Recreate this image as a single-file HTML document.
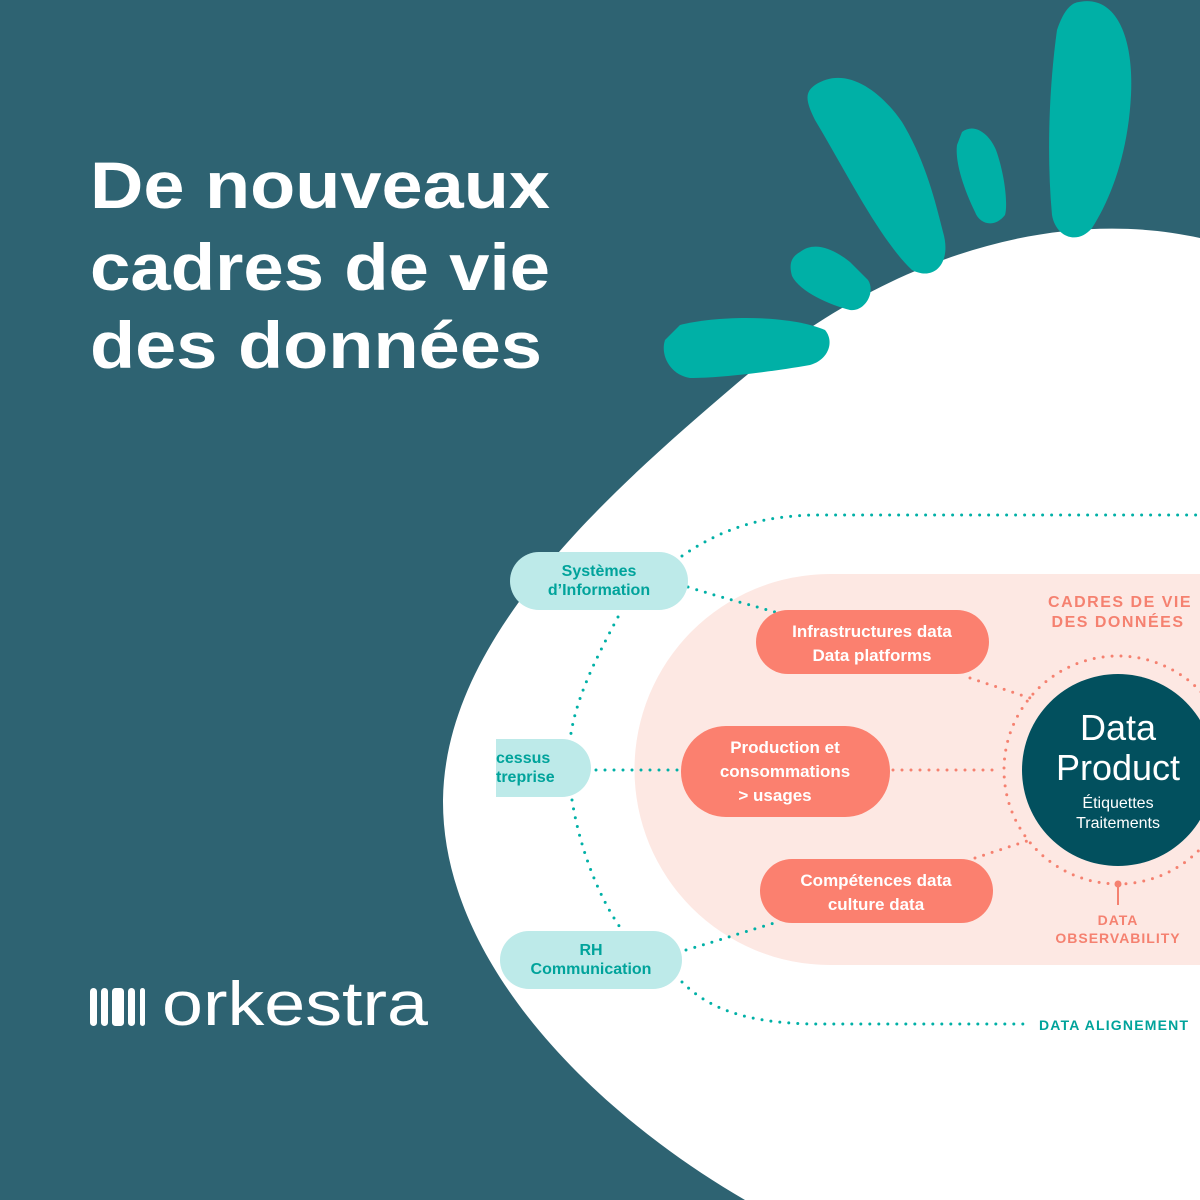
<!DOCTYPE html>
<html><head><meta charset="utf-8"><style>
html,body{margin:0;padding:0;background:#2e6372;}
svg{display:block}
text{font-family:"Liberation Sans",sans-serif}
</style></head><body>
<svg width="1200" height="1200" viewBox="0 0 1200 1200" xmlns="http://www.w3.org/2000/svg">
<rect width="1200" height="1200" fill="#2e6372"/>
<path d="M1200,238 C1050,205 880,260 735,385 C600,500 445,640 443,800 C442,960 590,1110 745,1200 L1200,1200 Z" fill="#fff"/>
<g fill="#00b0a6">
<path d="M1075,3 C1112,-8 1134,30 1131,95 C1128,155 1110,200 1092,228 C1078,245 1056,238 1052,215 C1046,150 1050,80 1057,30 C1062,15 1068,6 1075,3 Z"/>
<path d="M815,85 C845,65 880,90 902,122 C925,160 935,200 943,232 C952,262 935,282 912,270 C880,240 845,170 815,120 C805,100 805,92 815,85 Z"/>
<path d="M962,132 C975,122 990,135 996,150 C1005,175 1008,205 1005,215 C995,228 980,225 975,212 C962,185 955,160 957,145 Z"/>
<path d="M800,252 C815,240 835,250 850,262 L868,280 C876,292 865,312 850,310 C830,305 800,292 792,276 C788,262 793,256 800,252 Z"/>
<path d="M680,325 C720,315 790,315 825,330 C835,342 828,360 810,365 C770,372 720,378 690,378 C670,375 660,355 665,340 Z"/>
</g>
<text x="90" y="208" fill="#fff" font-size="66" font-weight="bold" textLength="460" lengthAdjust="spacingAndGlyphs">De nouveaux</text>
<text x="90" y="290" fill="#fff" font-size="66" font-weight="bold" textLength="460" lengthAdjust="spacingAndGlyphs">cadres de vie</text>
<text x="90" y="368" fill="#fff" font-size="66" font-weight="bold" textLength="452" lengthAdjust="spacingAndGlyphs">des  données</text>
<g fill="#fff">
<rect x="90" y="988" width="7" height="38" rx="3.5"/>
<rect x="101" y="988" width="7" height="38" rx="3.5"/>
<rect x="112" y="988" width="12" height="38" rx="3.5"/>
<rect x="128" y="988" width="7" height="38" rx="3.5"/>
<rect x="140" y="988" width="5" height="38" rx="2.5"/>
</g>
<text x="162" y="1025" fill="#fff" font-size="62" font-weight="normal" style="font-weight:100" textLength="266" lengthAdjust="spacingAndGlyphs">orkestra</text>
<!-- pink region -->
<path d="M830,574 L1200,574 L1200,965 L830,965 A195,195 0 0 1 830,574 Z" fill="#fde8e3"/>
<!-- teal dotted lines -->
<g fill="none" stroke="#00b0a6" stroke-width="3" stroke-linecap="round" stroke-dasharray="0 9">
<path d="M682,556 C720,530 760,515 820,515 L1200,515"/>
<path d="M688,587 C720,597 750,605 775,612"/>
<path d="M618,617 C595,660 575,700 570,740"/>
<path d="M596,770 L680,770"/>
<path d="M572,800 C580,850 600,900 622,930"/>
<path d="M686,950 C720,940 750,930 778,922"/>
<path d="M682,982 C710,1010 750,1024 820,1024 L1025,1024"/>
</g>
<!-- salmon dotted -->
<g fill="none" stroke="#f58170" stroke-width="3" stroke-linecap="round" stroke-dasharray="0 9">
<path d="M970,678 L1030,698"/>
<path d="M893,770 L1000,770"/>
<path d="M975,858 L1030,840"/>
<circle cx="1118" cy="770" r="114"/>
</g>
<line x1="1118" y1="884" x2="1118" y2="905" stroke="#f58170" stroke-width="2"/>
<circle cx="1118" cy="884" r="3.5" fill="#f58170"/>
<!-- teal pills -->
<g fill="#bdeae9">
<rect x="510" y="552" width="178" height="58" rx="29"/>
<path d="M496,739 L562,739 A29,29 0 0 1 562,797 L496,797 Z"/>
<rect x="500" y="931" width="182" height="58" rx="29"/>
</g>
<g fill="#00a39b" font-size="16" font-weight="bold" text-anchor="middle">
<text x="599" y="576">Systèmes</text>
<text x="599" y="595">d’Information</text>
<text x="591" y="955">RH</text>
<text x="591" y="974">Communication</text>
<text x="496" y="763" text-anchor="start">cessus</text>
<text x="496" y="782" text-anchor="start">treprise</text>
</g>
<!-- salmon pills -->
<g fill="#fb806f">
<rect x="756" y="610" width="233" height="64" rx="32"/>
<rect x="681" y="726" width="209" height="91" rx="45"/>
<rect x="760" y="859" width="233" height="64" rx="32"/>
</g>
<g fill="#fff" font-size="17" font-weight="bold" text-anchor="middle">
<text x="872" y="637">Infrastructures data</text>
<text x="872" y="661">Data platforms</text>
<text x="785" y="753">Production et</text>
<text x="785" y="777">consommations</text>
<text x="775" y="801">&gt;  usages</text>
<text x="876" y="886">Compétences data</text>
<text x="876" y="910">culture data</text>
</g>
<circle cx="1118" cy="770" r="96" fill="#02505e"/>
<g fill="#fff" text-anchor="middle">
<text x="1118" y="740" font-size="36">Data</text>
<text x="1118" y="780" font-size="36">Product</text>
<text x="1118" y="808" font-size="16">Étiquettes</text>
<text x="1118" y="828" font-size="16">Traitements</text>
</g>
<g fill="#f58170" font-size="16" font-weight="bold" text-anchor="middle" letter-spacing="1.5">
<text x="1120" y="607">CADRES DE VIE</text>
<text x="1118" y="627">DES DONNÉES</text>
</g>
<g fill="#f58170" font-size="14" font-weight="bold" text-anchor="middle" letter-spacing="1">
<text x="1118" y="925">DATA</text>
<text x="1118" y="943">OBSERVABILITY</text>
</g>
<text x="1039" y="1030" fill="#00a39b" font-size="14" font-weight="bold" letter-spacing="1.2">DATA ALIGNEMENT</text>
</svg>
</body></html>
